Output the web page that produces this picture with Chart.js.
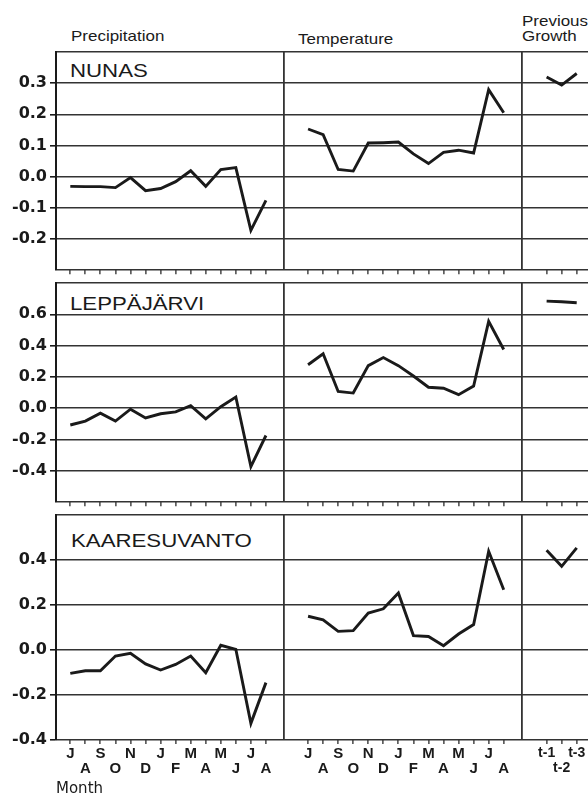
<!DOCTYPE html>
<html>
<head>
<meta charset="utf-8">
<script src="https://cdn.jsdelivr.net/npm/chart.js@4.4.1/dist/chart.umd.min.js"></script>
<style>
  body { margin: 0; background: #fff; width: 588px; height: 793px; overflow: hidden; position: relative;
         font-family: "Liberation Sans", Arial, sans-serif; color: #1a1a1a; }
  canvas { position: absolute; left: 0; }
  .lbl { position: absolute; white-space: nowrap; line-height: 1; transform-origin: 0 50%; transform: scaleX(1.17); }
  .site { font-size: 19px; }
  .head { font-size: 14.5px; }
</style>
</head>
<body>
<div class="lbl head" style="left:70.5px;top:29.4px">Precipitation</div>
<div class="lbl head" style="left:297.5px;top:32.4px">Temperature</div>
<div class="lbl head" style="left:521.5px;top:13.7px">Previous</div>
<div class="lbl head" style="left:521.5px;top:29.1px">Growth</div>
<div class="lbl site" style="left:69.5px;top:60.7px">NUNAS</div>
<div class="lbl site" style="left:69.5px;top:294px">LEPPÄJÄRVI</div>
<div class="lbl site" style="left:70.5px;top:531.2px">KAARESUVANTO</div>

<canvas id="row1" width="588" height="244" style="top:38px"></canvas>
<canvas id="row2" width="588" height="245" style="top:269px"></canvas>
<canvas id="row3" width="588" height="296" style="top:501px"></canvas>

<script>
// months July .. August of the growth year
const months = ['J','A','S','O','N','D','J','F','M','A','M','J','J','A'];
const lags = ['t-1','t-2','t-3'];

// NUNAS
const nunasPrecip = [-0.031, -0.032, -0.032, -0.035, -0.003, -0.045, -0.038, -0.016, 0.019, -0.031, 0.023, 0.029, -0.172, -0.076];
const nunasTemp   = [0.153, 0.135, 0.023, 0.018, 0.108, 0.109, 0.111, 0.073, 0.042, 0.078, 0.085, 0.076, 0.279, 0.205];
const nunasGrowth = [0.320, 0.294, 0.331];

// LEPPÄJÄRVI
const leppPrecip = [-0.107, -0.082, -0.031, -0.082, -0.006, -0.062, -0.035, -0.023, 0.016, -0.068, 0.010, 0.072, -0.373, -0.174];
const leppTemp   = [0.278, 0.348, 0.107, 0.097, 0.272, 0.324, 0.272, 0.206, 0.134, 0.128, 0.087, 0.142, 0.555, 0.375];
const leppGrowth = [0.684, 0.680, 0.674];

// KAARESUVANTO
const kaarePrecip = [-0.104, -0.092, -0.092, -0.027, -0.015, -0.062, -0.089, -0.064, -0.027, -0.101, 0.021, 0.003, -0.326, -0.145];
const kaareTemp   = [0.150, 0.134, 0.083, 0.086, 0.164, 0.183, 0.253, 0.064, 0.060, 0.019, 0.071, 0.113, 0.439, 0.268];
const kaareGrowth = [0.443, 0.372, 0.454];

// y ranges: axis min/max, step, labelled range
const yNunas = {min: -0.3, max: 0.4, step: 0.1, lo: -0.2, hi: 0.3};
const yLepp  = {min: -0.6, max: 0.8, step: 0.2, lo: -0.4, hi: 0.6};
const yKaare = {min: -0.4, max: 0.6, step: 0.2, lo: -0.4, hi: 0.4};

// shared x layout: three panels along one linear axis
const X_MIN = -0.95, X_MAX = 34.4;
const TEMP_START = 15.8, GROWTH_START = 31.65;
const SEPARATORS = [14.2, 30.0];

const INK = '#1a1a1a';
const GRID = '#333';

function buildTicks() {
  const list = [];
  months.forEach((m, i) => list.push({value: i, label: i % 2 ? ['', m] : [m, ''], kind: 'm'}));
  months.forEach((m, i) => list.push({value: TEMP_START + i, label: i % 2 ? ['', m] : [m, ''], kind: 'm'}));
  lags.forEach((m, i) => list.push({value: GROWTH_START + i, label: i % 2 ? ['', m] : [m, ''], kind: 'g'}));
  SEPARATORS.forEach(v => list.push({value: v, label: '', kind: 's'}));
  return list.sort((a, b) => a.value - b.value);
}

function makeRow(id, precip, temp, growth, yr, bottomRow) {
  const tickList = buildTicks();
  const kindAt = v => { const t = tickList.find(t => Math.abs(t.value - v) < 1e-6); return t ? t.kind : 'm'; };
  const pts = (arr, start) => arr.map((v, i) => ({x: start + i, y: v}));
  const line = data => ({data, borderColor: INK, borderWidth: 2.9, pointRadius: 0, tension: 0, fill: false});
  const inLabelled = v => v >= yr.lo - 1e-6 && v <= yr.hi + 1e-6;

  new Chart(document.getElementById(id).getContext('2d'), {
    type: 'line',
    data: {
      datasets: [line(pts(precip, 0)), line(pts(temp, TEMP_START)), line(pts(growth, GROWTH_START))]
    },
    options: {
      responsive: false,
      animation: false,
      events: [],
      layout: {padding: {top: 14, left: 0, right: 0, bottom: 0}},
      plugins: {legend: {display: false}, tooltip: {enabled: false}},
      scales: {
        x: {
          type: 'linear',
          min: X_MIN,
          max: X_MAX,
          afterBuildTicks: s => { s.ticks = tickList.map(t => ({value: t.value})); },
          afterFit: s => { s.height = bottomRow ? 57 : 6; },
          border: {display: false},
          grid: {
            drawOnChartArea: true,
            color: c => (c.tick && kindAt(c.tick.value) === 's') ? GRID : 'rgba(0,0,0,0)',
            tickColor: c => (c.tick && kindAt(c.tick.value) === 's') ? 'rgba(0,0,0,0)' : INK,
            lineWidth: 1.8,
            tickWidth: 1.2,
            tickLength: 4
          },
          ticks: {
            display: bottomRow,
            autoSkip: false,
            maxRotation: 0,
            minRotation: 0,
            padding: 2,
            color: INK,
            font: c => (c.tick && kindAt(c.tick.value) === 'g')
              ? {family: 'Liberation Sans', size: 14, weight: 'bold', lineHeight: 15 / 14}
              : {family: 'Liberation Sans', size: 15, weight: 'bold', lineHeight: 1}
            ,
            callback: (v, i) => tickList[i] ? tickList[i].label : ''
          },
          title: {
            display: bottomRow,
            text: 'Month',
            align: 'start',
            color: INK,
            padding: {top: 0, bottom: 0},
            font: {family: 'DejaVu Sans', size: 15, lineHeight: 1}
          }
        },
        y: {
          min: yr.min,
          max: yr.max,
          afterFit: s => { s.width = 56; },
          border: {display: true, color: INK, width: 2},
          grid: {
            color: GRID,
            lineWidth: 1.6,
            tickLength: 6,
            tickColor: c => (c.tick && inLabelled(c.tick.value)) ? INK : 'rgba(0,0,0,0)'
          },
          ticks: {
            stepSize: yr.step,
            padding: 3,
            color: INK,
            font: {family: 'DejaVu Sans', size: 16, weight: 'bold', lineHeight: 1.1},
            callback: v => inLabelled(v) ? (Math.abs(v) < 1e-9 ? '0.0' : v.toFixed(1)) : ''
          }
        }
      }
    }
  });
}

makeRow('row1', nunasPrecip, nunasTemp, nunasGrowth, yNunas, false);
makeRow('row2', leppPrecip, leppTemp, leppGrowth, yLepp, false);
makeRow('row3', kaarePrecip, kaareTemp, kaareGrowth, yKaare, true);
</script>
</body>
</html>
